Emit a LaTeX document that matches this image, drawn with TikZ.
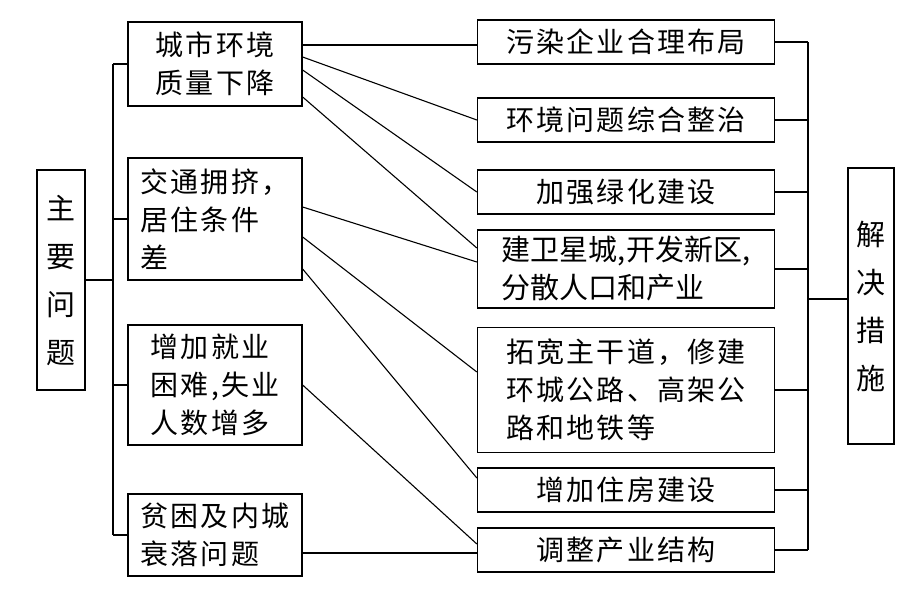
\documentclass[tikz,border=0pt]{standalone}
\usepackage{fontspec}
\newfontfamily\cjk{Noto Sans CJK SC}[LetterSpace=8]
\newfontfamily\cjkn{Noto Sans CJK SC}
\begin{document}
\begin{tikzpicture}[x=1pt,y=-1pt,line width=1.3pt,
  bx/.style={draw,inner sep=0pt,font=\cjk\fontsize{28}{38}\selectfont},
  ln/.style={line width=1.1pt}]
\useasboundingbox (0,0) rectangle (909,590);
% left
\node[bx,minimum width=48,minimum height=220,align=center,font=\cjkn\fontsize{29}{48}\selectfont] (L) at (61,280) {主\\要\\问\\题};
\node[bx,minimum width=174,minimum height=84,align=center] (A) at (215,64) {城市环境\\质量下降};
\node[bx,minimum width=174,minimum height=122,align=left] (B) at (215,219) {交通拥挤，\\居住条件\\差};
\node[bx,minimum width=174,minimum height=120,align=left] (C) at (215,385) {增加就业\\困难,失业\\人数增多};
\node[bx,minimum width=174,minimum height=82,align=left] (D) at (215,535) {贫困及内城\\衰落问题};
% right
\node[bx,minimum width=297,minimum height=44] (R1) at (626,42) {污染企业合理布局};
\node[bx,minimum width=297,minimum height=44] (R2) at (626,120) {环境问题综合整治};
\node[bx,minimum width=297,minimum height=44] (R3) at (626,192) {加强绿化建设};
\node[bx,minimum width=297,minimum height=78,align=left,font=\cjkn\fontsize{29}{38}\selectfont] (R4) at (626,269) {建卫星城,开发新区,\\分散人口和产业};
\node[bx,minimum width=297,minimum height=125,align=left] (R5) at (626,390) {拓宽主干道，修建\\环城公路、高架公\\路和地铁等};
\node[bx,minimum width=297,minimum height=44] (R6) at (626,490) {增加住房建设};
\node[bx,minimum width=297,minimum height=44] (R7) at (626,550) {调整产业结构};
\node[bx,minimum width=46,minimum height=276,align=center,font=\cjkn\fontsize{29}{48}\selectfont] (S) at (871,306) {解\\决\\措\\施};
% left bracket
\coordinate (lb1) at (113,64); \coordinate (lb2) at (113,535); \coordinate (lbm) at (113,280);
\draw[ln] (lb1) -- (lb2);
\draw[ln] (L.east) -- (lbm);
\foreach \n in {A,B,C,D}{\draw[ln] (\n.west) -- (\n.west -| lbm);}
% right bracket
\coordinate (rb1) at (808,42); \coordinate (rb2) at (808,550); \coordinate (rbm) at (808,299);
\draw[ln] (rb1) -- (rb2);
\draw[ln] (rbm) -- (rbm -| S.west);
\foreach \n in {R1,R2,R3,R4,R5,R6,R7}{\draw[ln] (\n.east) -- (\n.east -| rbm);}
% connectors
\draw[ln] (A.east |- 0,45) -- (R1.west |- 0,45);
\draw[ln] (A.east |- 0,57) -- (R2.west);
\draw[ln] (A.east |- 0,70) -- (R3.west);
\draw[ln] (A.east |- 0,97) -- (R4.west |- 0,248);
\draw[ln] (B.east |- 0,207) -- (R4.west |- 0,262);
\draw[ln] (B.east |- 0,237) -- (R5.west |- 0,372);
\draw[ln] (B.east |- 0,269) -- (R6.west |- 0,478);
\draw[ln] (C.east |- 0,385) -- (R7.west |- 0,544);
\draw[ln] (D.east |- 0,553) -- (R7.west |- 0,553);
\end{tikzpicture}
\end{document}
